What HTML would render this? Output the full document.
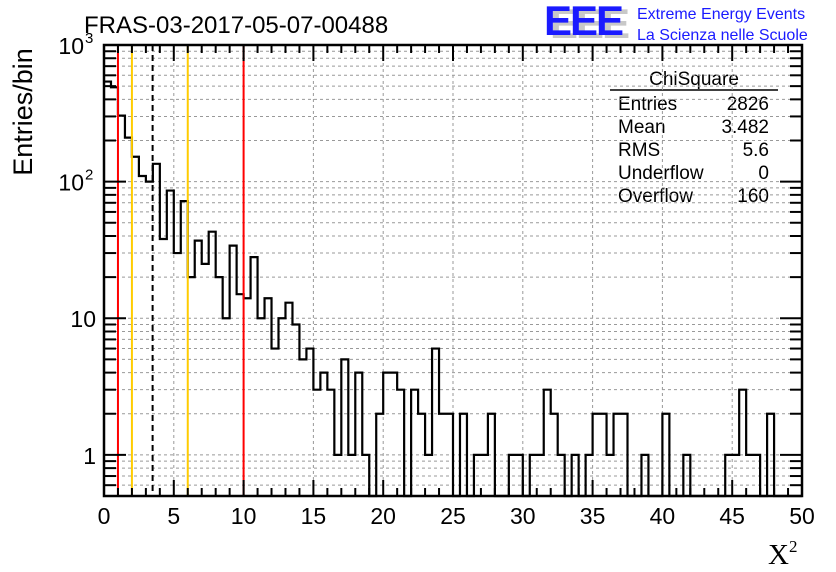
<!DOCTYPE html>
<html><head><meta charset="utf-8"><style>
body{margin:0;background:#fff;width:836px;height:572px;overflow:hidden}
svg{display:block;font-family:"Liberation Sans",sans-serif}
</style></head><body>
<svg id="c" width="836" height="572">
<text x="84" y="33" font-size="24">FRAS-03-2017-05-07-00488</text>
<g>
<text x="550" y="38" font-size="42" font-weight="bold" fill="#c8c8c8" letter-spacing="-2">EEE</text>
<text x="544" y="35" font-size="42" font-weight="bold" fill="#1a1aff" letter-spacing="-2">EEE</text>
<text x="637" y="19" font-size="16" fill="#1a1aff">Extreme Energy Events</text>
<text x="637" y="40" font-size="16" fill="#1a1aff">La Scienza nelle Scuole</text>
</g>
<text transform="translate(32,112) rotate(-90)" font-size="27" text-anchor="middle">Entries/bin</text>
<text x="768" y="564" font-size="29" font-family="Liberation Serif">X<tspan font-size="17" dy="-12">2</tspan></text>
<g font-size="19">
<text x="694" y="85" text-anchor="middle">ChiSquare</text>
<line x1="610" y1="90" x2="778" y2="90" stroke="#000" stroke-width="1.5"/>
<text x="618" y="110">Entries</text><text x="769" y="110" text-anchor="end">2826</text>
<text x="618" y="133">Mean</text><text x="769" y="133" text-anchor="end">3.482</text>
<text x="618" y="156">RMS</text><text x="769" y="156" text-anchor="end">5.6</text>
<text x="618" y="179">Underflow</text><text x="769" y="179" text-anchor="end">0</text>
<text x="618" y="202">Overflow</text><text x="769" y="202" text-anchor="end">160</text>
</g>
</svg>
<script>
const counts=[540,490,304,210,152,110,100,135,38,86,30,72,20,37,25,43,20,10,34,15,14,28,10,14,6,10,13,9,5,6,3,4,3,1,5,1,4,1,0,2,4,4,3,0,3,2,1,6,2,2,0,2,0,1,1,2,0,0,1,1,0,1,1,3,2,1,0,1,0,1,2,2,1,2,2,0,0,1,0,0,2,0,0,1,0,0,0,0,0,1,1,3,1,1,0,2,0,0,0,0];
const binWidth=0.5;
const xTicks=[0,5,10,15,20,25,30,35,40,45,50];
const yTicks=[1,10,100,1000];
const yTickLabels=["1","10","10","10"];
const yTickExp=["","","2","3"];
const redLines=[1,10];
const orangeLines=[2,6];
const meanValue=3.482;
const L=104,R=802,T=45,B=496,XMIN=0,XMAX=50,YMIN=0.5,YMAX=1000;
const sx=v=>L+(v-XMIN)/(XMAX-XMIN)*(R-L);
const sy=v=>B-(Math.log10(v)-Math.log10(YMIN))/(Math.log10(YMAX)-Math.log10(YMIN))*(B-T);
const svg=document.getElementById('c');const NS='http://www.w3.org/2000/svg';
function mk(t,a,p){const e=document.createElementNS(NS,t);for(const k in a)e.setAttribute(k,a[k]);(p||svg).appendChild(e);return e;}
const grid=mk('g',{});


xTicks.forEach(v=>{if(v>XMIN&&v<XMAX)mk('line',{x1:sx(v),x2:sx(v),y1:T,y2:B,stroke:'#999','stroke-dasharray':'3,3','stroke-width':1},grid);});
for(let d=0.1;d<1000;d*=10){for(let m=1;m<10;m++){const v=d*m;if(v>YMIN&&v<YMAX)mk('line',{x1:L,x2:R,y1:sy(v),y2:sy(v),stroke:'#999','stroke-dasharray':'3,3','stroke-width':1},grid);}}
let d='';counts.forEach((c,i)=>{const x0=sx(i*binWidth),x1=sx((i+1)*binWidth);const y=c>0?sy(c):B;d+=(i===0?'M'+x0+','+y:'L'+x0+','+y)+'L'+x1+','+y;});
const h=mk('path',{d:d,fill:'none',stroke:'#000','stroke-width':2.2});


redLines.forEach(v=>{const l=mk('line',{x1:sx(v),x2:sx(v),y1:T,y2:B,stroke:'#f00','stroke-width':2});

});
orangeLines.forEach(v=>{const l=mk('line',{x1:sx(v),x2:sx(v),y1:T,y2:B,stroke:'#fc0','stroke-width':2});

});
const ml=mk('line',{x1:sx(meanValue),x2:sx(meanValue),y1:T,y2:B,stroke:'#000','stroke-width':2,'stroke-dasharray':'6,4'});


const fr=mk('rect',{x:L,y:T,width:R-L,height:B-T,fill:'none',stroke:'#000','stroke-width':2.5});


const xa=mk('g',{});


for(let v=XMIN;v<=XMAX;v++){const big=v%5===0;mk('line',{x1:sx(v),x2:sx(v),y1:B,y2:B-(big?16:8),stroke:'#000','stroke-width':2},xa);mk('line',{x1:sx(v),x2:sx(v),y1:T,y2:T+(big?16:8),stroke:'#000','stroke-width':2},xa);}
xTicks.forEach(v=>{const t=mk('text',{x:sx(v),y:B+28,'font-size':23,'text-anchor':'middle'},xa);t.textContent=v;});
const ya=mk('g',{});


for(let dd=0.1;dd<1000;dd*=10){for(let m=1;m<10;m++){const v=dd*m;if(v>=YMIN&&v<=YMAX*1.0001){const big=m===1;mk('line',{x1:L,x2:L+(big?22:12),y1:sy(v),y2:sy(v),stroke:'#000','stroke-width':2},ya);mk('line',{x1:R,x2:R-(big?22:12),y1:sy(v),y2:sy(v),stroke:'#000','stroke-width':2},ya);}}}
yTicks.forEach((v,i)=>{const t=mk('text',{x:yTickExp[i]?84:96,y:sy(v)+9,'font-size':23,'text-anchor':'end'},ya);t.textContent=yTickLabels[i];if(yTickExp[i]){const s=mk('text',{x:85,y:sy(v)-2,'font-size':15},ya);s.textContent=yTickExp[i];}});
</script>
</body></html>
